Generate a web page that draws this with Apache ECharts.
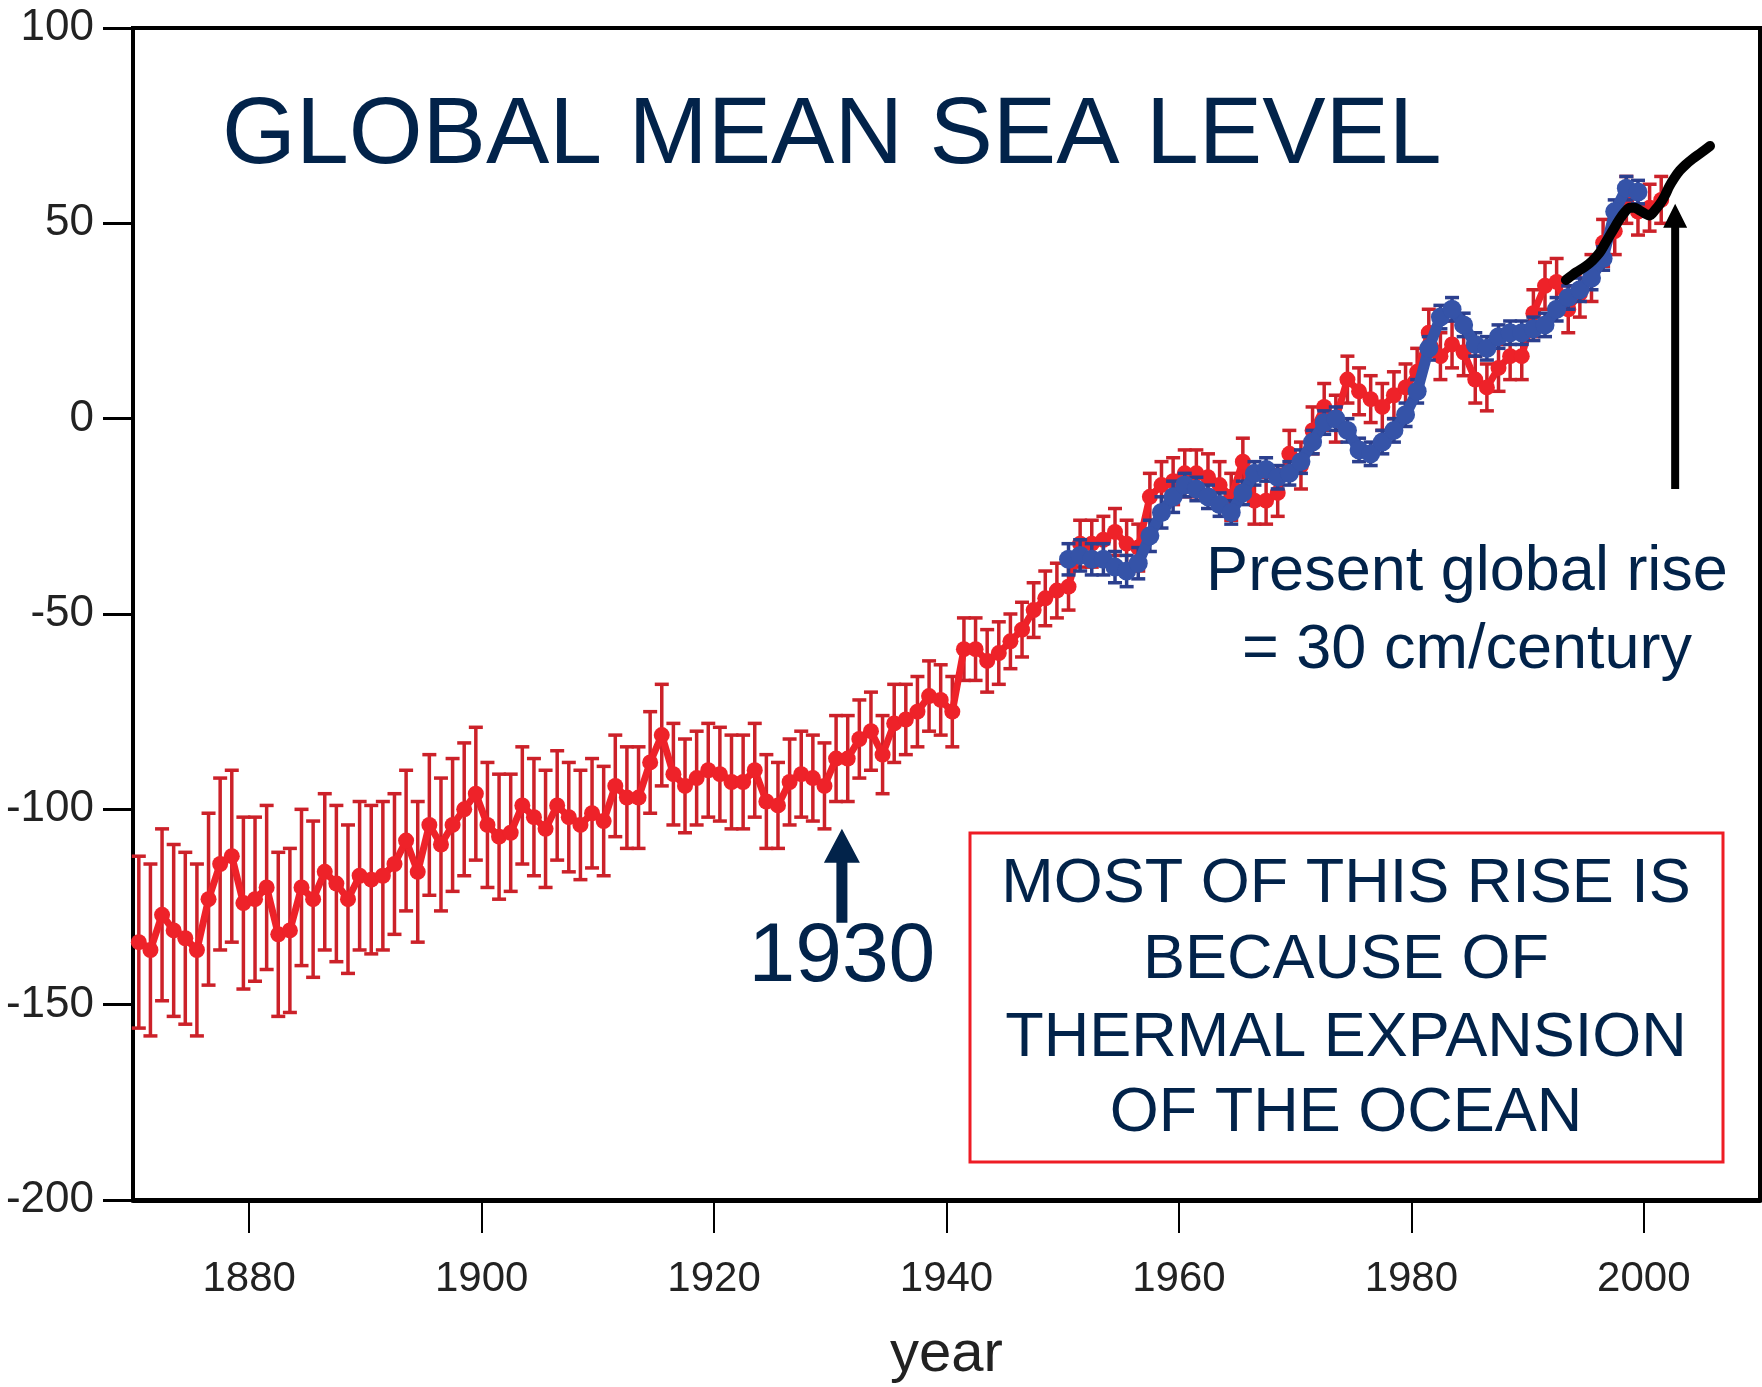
<!DOCTYPE html>
<html>
<head>
<meta charset="utf-8">
<script src="https://cdn.jsdelivr.net/npm/echarts@6/dist/echarts.min.js"></script>
<style>
html,body{margin:0;padding:0;background:#fff;}
#chart{width:1762px;height:1387px;}
</style>
</head>
<body>
<div id="chart"></div>
<script>
// ---- data ----
const redStartYear = 1870;
const redValues = [
 -134,-136,-127,-131,-133,-136,-123,-114,-112,-124,
 -123,-120,-132,-131,-120,-123,-116,-119,-123,-117,
 -118,-117,-114,-108,-116,-104,-109,-104,-100,-96,
 -104,-107,-106,-99,-102,-105,-99,-102,-104,-101,
 -103,-94,-97,-97,-88,-81,-91,-94,-92,-90,
 -91,-93,-93,-90,-98,-99,-93,-91,-92,-94,
 -87,-87,-82,-80,-86,-78,-77,-75,-71,-72,
 -75,-59,-59,-62,-60,-57,-54,-49,-46,-44,
 -43,-32,-32,-31,-29,-32,-33,-20,-17,-16,
 -14,-14,-15,-17,-20,-11,-21,-21,-19,-9,
 -12,-3,3,0,10,7,5,3,6,8,
 12,22,16,19,17,10,8,13,16,16,
 27,34,35,28,32,36,45,48,56,53,
 54,56
];
const redErrors = [
 22,22,22,22,22,22,22,22,22,22,
 21,21,21,21,20,20,20,20,19,19,
 19,19,18,18,18,18,17,17,17,17,
 16,16,15,15,15,15,14,14,14,14,
 14,13,13,13,13,13,13,12,12,12,
 12,12,12,12,12,11,11,11,11,11,
 11,11,10,10,10,10,9,9,9,9,
 9,8,8,8,8,7,7,7,7,7,
 6,6,6,6,6,6,6,6,6,6,
 6,6,6,6,6,6,6,6,6,6,
 6,6,6,6,6,6,6,6,6,6,
 6,6,6,6,6,6,6,6,6,6,
 6,6,6,6,6,6,6,6,6,6,
 6,6
];
const blueStartYear = 1950;
const blueValues = [
 -36,-35,-36,-36,-38,-39,-37,-30,-24,-20,
 -17,-18,-20,-22,-24,-19,-14,-13,-15,-14,
 -11,-6,-1,0,-3,-8,-9,-6,-3,1,
 7,18,26,28,24,19,18,21,22,22,
 23,24,28,31,33,36,41,53,59,58
];
const blueErrors = [
 4,4,4,4,4,4,4,4,4,4,
 3,3,3,3,3,3,3,3,3,3,
 3,3,3,3,3,3,3,3,3,3,
 3,3,3,3,3,3,3,3,3,3,
 3,3,3,3,3,3,3,3,3,3
];
const altimetryYears = [1993.3,1994.2,1995.0,1995.6,1996.2,1996.7,1997.1,1997.5,1997.9,1998.4,1998.8,1999.2,1999.6,2000.1,2000.5,2001.0,2001.4,2001.8,2002.2,2002.6,2003.1,2003.6,2004.2,2004.9,2005.7];
const altimetryValues = [35.5,37.5,39,40.5,42.5,45,47,49,51,53,54,54,53.4,52.5,52,53.5,55,57,59.5,61.5,63.5,65,66.5,68,69.8];
const xTicks = [1880,1900,1920,1940,1960,1980,2000];
const yTicks = [-200,-150,-100,-50,0,50,100];
const titleText = 'GLOBAL MEAN SEA LEVEL';
const riseText = ['Present global rise', '= 30 cm/century'];
const boxText = ['MOST OF THIS RISE IS', 'BECAUSE OF', 'THERMAL EXPANSION', 'OF THE OCEAN'];
const arrow1930 = {label: '1930', x: 1931, tip: -105, tail: -129};
const arrowNow = {x: 2002.7, tip: 55, tail: -18};

// ---- build series data ----
const redLine = redValues.map((v, i) => [redStartYear + i + 0.5, v]);
const redBars = redValues.map((v, i) => [redStartYear + i + 0.5, v - redErrors[i], v + redErrors[i]]);
const blueLine = blueValues.map((v, i) => [blueStartYear + i + 0.5, v]);
const blueBars = blueValues.map((v, i) => [blueStartYear + i + 0.5, v - blueErrors[i], v + blueErrors[i]]);
const altLine = altimetryYears.map((y, i) => [y, altimetryValues[i]]);

const NAVY = '#02234a';
const RED = '#ee2229';
const RED_BAR = '#cc2129';
const BLUE = '#3553a8';
const BLUE_BAR = '#2b3f8e';
const AXIS_FONT = '"Liberation Sans", Arial, sans-serif';
const TEXT_FONT = '"Liberation Sans", Arial, sans-serif';

function errorBarRenderer(color, capHalf, width) {
  return function (params, api) {
    const x = api.value(0);
    const top = api.coord([x, api.value(2)]);
    const bot = api.coord([x, api.value(1)]);
    const st = {stroke: color, lineWidth: width};
    return {
      type: 'group',
      children: [
        {type: 'line', shape: {x1: top[0], y1: top[1], x2: bot[0], y2: bot[1]}, style: st},
        {type: 'line', shape: {x1: top[0] - capHalf, y1: top[1], x2: top[0] + capHalf, y2: top[1]}, style: st},
        {type: 'line', shape: {x1: bot[0] - capHalf, y1: bot[1], x2: bot[0] + capHalf, y2: bot[1]}, style: st}
      ]
    };
  };
}

const chart = echarts.init(document.getElementById('chart'));
chart.setOption({
  animation: false,
  backgroundColor: '#ffffff',
  grid: {left: 133, right: 2, top: 28, bottom: 187, containLabel: false, outerBoundsMode: 'none',
    show: true, borderColor: '#000', borderWidth: 4, backgroundColor: 'transparent'},
  xAxis: {
    type: 'value', min: 1870, max: 2010,
    name: 'year', nameLocation: 'middle', nameGap: 126,
    nameTextStyle: {fontFamily: AXIS_FONT, fontSize: 58, color: '#222'},
    axisLine: {show: true, onZero: false, lineStyle: {color: '#000', width: 5}},
    axisTick: {show: true, inside: false, length: 33, customValues: xTicks, lineStyle: {color: '#000', width: 2}},
    axisLabel: {show: true, customValues: xTicks, margin: 58, fontFamily: AXIS_FONT, fontSize: 42, color: '#222',
      formatter: v => String(v)},
    splitLine: {show: false}
  },
  yAxis: {
    type: 'value', min: -200, max: 100, interval: 50,
    axisLine: {show: true, onZero: false, lineStyle: {color: '#000', width: 4}},
    axisTick: {show: true, inside: false, length: 30, lineStyle: {color: '#000', width: 3}},
    axisLabel: {show: true, margin: 39, fontFamily: AXIS_FONT, fontSize: 44, color: '#222',
      formatter: v => String(v)},
    splitLine: {show: false}
  },
  series: [
    {type: 'custom', name: 'red-err', data: redBars, renderItem: errorBarRenderer(RED_BAR, 7, 3.5), z: 2, encode: {x: 0, y: [1, 2]}},
    {type: 'line', name: 'tide gauges', data: redLine, symbol: 'circle', symbolSize: 16,
      lineStyle: {color: RED, width: 7}, itemStyle: {color: RED}, z: 3},
    {type: 'custom', name: 'blue-err', data: blueBars, renderItem: errorBarRenderer(BLUE_BAR, 7, 3.5), z: 4, encode: {x: 0, y: [1, 2]}},
    {type: 'line', name: 'reconstruction', data: blueLine, symbol: 'circle', symbolSize: 19,
      lineStyle: {color: BLUE, width: 11}, itemStyle: {color: BLUE}, z: 5},
    {type: 'line', name: 'altimetry', data: altLine, symbol: 'none', smooth: 0.3,
      lineStyle: {color: '#000', width: 10, cap: 'round', join: 'round'}, z: 6}
  ]
});

function arrowPoly(a, shaftHalf, headHalf, headLen, color) {
  const tip = chart.convertToPixel({gridIndex: 0}, [a.x, a.tip]);
  const tail = chart.convertToPixel({gridIndex: 0}, [a.x, a.tail]);
  const cx = tip[0];
  const neck = tip[1] + headLen;
  return {
    type: 'polygon', z: 100,
    shape: {points: [
      [cx - shaftHalf, tail[1]], [cx + shaftHalf, tail[1]], [cx + shaftHalf, neck],
      [cx + headHalf, neck], [cx, tip[1]], [cx - headHalf, neck], [cx - shaftHalf, neck]
    ]},
    style: {fill: color}
  };
}

const tail1930 = chart.convertToPixel({gridIndex: 0}, [arrow1930.x, arrow1930.tail]);

chart.setOption({
  graphic: [
    {type: 'text', z: 100, style: {text: titleText, x: 222, y: 137, font: '95px ' + TEXT_FONT, fill: NAVY, textAlign: 'left', textVerticalAlign: 'middle'}},
    {type: 'text', z: 100, style: {text: riseText[0], x: 1467, y: 573, font: '63px ' + TEXT_FONT, fill: NAVY, textAlign: 'center', textVerticalAlign: 'middle'}},
    {type: 'text', z: 100, style: {text: riseText[1], x: 1467, y: 651, font: '63px ' + TEXT_FONT, fill: NAVY, textAlign: 'center', textVerticalAlign: 'middle'}},
    {type: 'rect', z: 99, shape: {x: 970, y: 833, width: 753, height: 329}, style: {fill: '#fff', stroke: '#ee1c25', lineWidth: 3}},
    {type: 'text', z: 100, style: {text: boxText[0], x: 1346, y: 885, font: '63px ' + TEXT_FONT, fill: NAVY, textAlign: 'center', textVerticalAlign: 'middle'}},
    {type: 'text', z: 100, style: {text: boxText[1], x: 1346, y: 961, font: '63px ' + TEXT_FONT, fill: NAVY, textAlign: 'center', textVerticalAlign: 'middle'}},
    {type: 'text', z: 100, style: {text: boxText[2], x: 1346, y: 1039, font: '63px ' + TEXT_FONT, fill: NAVY, textAlign: 'center', textVerticalAlign: 'middle'}},
    {type: 'text', z: 100, style: {text: boxText[3], x: 1346, y: 1114, font: '63px ' + TEXT_FONT, fill: NAVY, textAlign: 'center', textVerticalAlign: 'middle'}},
    arrowPoly(arrow1930, 5.5, 18, 34, NAVY),
    {type: 'text', z: 100, style: {text: arrow1930.label, x: tail1930[0], y: 958, font: '84px ' + TEXT_FONT, fill: NAVY, textAlign: 'center', textVerticalAlign: 'middle'}},
    arrowPoly(arrowNow, 4, 12, 24, '#000')
  ]
});
</script>
</body>
</html>
